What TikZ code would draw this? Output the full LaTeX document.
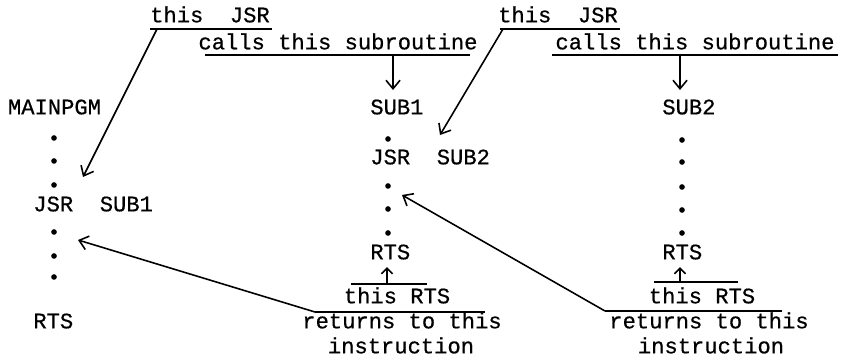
\documentclass[tikz,border=0pt]{standalone}
\usepackage{fontspec}
\setmonofont[FakeBold=0.6]{Liberation Mono}
\usepackage{tikz}
\usetikzlibrary{arrows.meta}

\tikzset{
  code/.style={font=\ttfamily\fontsize{12.6}{14}\selectfont,inner sep=0pt,
    text height=7.2pt,text depth=0pt},
  dotmark/.style={circle,fill,inner sep=0pt,minimum size=3.2pt},
  rule/.style={line width=0.9pt},
  call/.style={line width=0.9pt,-{Straight Barb[length=1.7mm,width=2.8mm]}},
  ret/.style={line width=0.9pt,-{Straight Barb[length=1.1mm,width=2.2mm]}}
}

\begin{document}
\begin{tikzpicture}
\useasboundingbox (0,0) rectangle (17,7.16);

% main program
\node[code] (mainpgm) at (1.09,5.00) {MAINPGM};
\foreach \i/\y in {1/4.40,2/3.94,3/3.46,4/2.52,5/2.04,6/1.62}
  \node[dotmark] (mdot\i) at (1.08,\y) {};
\node[code,anchor=west] (mjsr) at (0.66,3.06) {JSR~~SUB1};
\node[code,anchor=west] (mrts) at (0.66,0.72) {RTS};

% SUB1
\node[code,anchor=west] (sub1) at (7.40,5.00) {SUB1};
\foreach \i/\y in {1/4.38,2/3.44,3/2.98,4/2.50}
  \node[dotmark] (adot\i) at (7.76,\y) {};
\node[code,anchor=west] (ajsr) at (7.40,4.00) {JSR~~SUB2};
\node[code,anchor=west] (arts) at (7.40,2.10) {RTS};

% SUB2
\node[code,anchor=west] (sub2) at (13.24,5.00) {SUB2};
\foreach \i/\y in {1/4.36,2/3.92,3/3.42,4/2.96,5/2.50}
  \node[dotmark] (bdot\i) at (13.64,\y) {};
\node[code,anchor=west] (brts) at (13.24,2.10) {RTS};

% call notes
\node[code] (jsrnoteA) at (4.20,6.84) {this~~JSR};
\draw[rule] (3.00,6.58) -- (5.44,6.58);
\node[code] (callnoteA) at (6.76,6.30) {calls this subroutine};
\draw[rule] (4.10,6.06) -- (9.40,6.06);
\node[code] (jsrnoteB) at (11.16,6.84) {this~~JSR};
\draw[rule] (10.00,6.58) -- (12.40,6.58);
\node[code] (callnoteB) at (13.90,6.30) {calls this subroutine};
\draw[rule] (11.04,6.06) -- (16.76,6.06);

% return notes
\node[code] (rtsnoteA) at (7.94,1.22) {this RTS};
\draw[rule] (7.02,1.48) -- (8.54,1.48);
\draw[rule] (6.30,0.92) -- (9.70,0.92);
\node[code] (retnoteA) at (8.04,0.72) {returns to this};
\node[code] (instnoteA) at (8.02,0.22) {instruction};
\node[code] (rtsnoteB) at (14.04,1.22) {this RTS};
\draw[rule] (13.08,1.52) -- (14.76,1.52);
\draw[rule] (12.10,0.94) -- (15.64,0.94);
\node[code] (retnoteB) at (14.18,0.72) {returns to this};
\node[code] (instnoteB) at (14.22,0.22) {instruction};

% ends of the connectors
\coordinate (jsrfootA) at (3.14,6.58);
\coordinate (jsrfootB) at (10.06,6.58);
\coordinate (callfootA) at (7.86,6.06);
\coordinate (callfootB) at (13.60,6.06);
\coordinate (rtsheadA) at (7.74,1.48);
\coordinate (rtsheadB) at (13.60,1.52);
\coordinate (retfootA) at (6.30,0.92);
\coordinate (retfootB) at (12.10,0.94);

\draw[call] (jsrfootA) -- ([xshift=0.58cm,yshift=0.16cm]mdot3.center);
\draw[call] (callfootA) -- (7.86,5.36);
\draw[call] (jsrfootB) -- ([xshift=1.04cm,yshift=0.08cm]adot1.center);
\draw[call] (callfootB) -- (13.60,5.36);
\draw[call] (retfootA) -- ([xshift=0.48cm,yshift=-0.16cm]mdot4.center);
\draw[call] (retfootB) -- ([xshift=0.28cm,yshift=-0.18cm]adot2.center);
\draw[ret] (rtsheadA) -- ([yshift=-0.15cm]arts.south -| rtsheadA);
\draw[ret] (rtsheadB) -- ([yshift=-0.15cm]brts.south -| rtsheadB);
\end{tikzpicture}
\end{document}
